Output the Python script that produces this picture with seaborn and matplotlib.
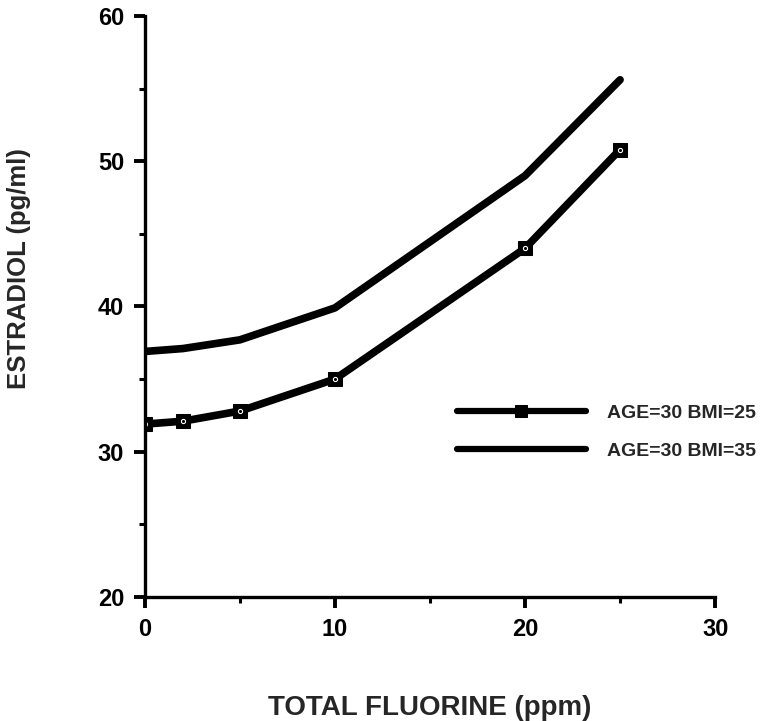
import numpy as np
import pandas as pd
import matplotlib
matplotlib.use("Agg")
import matplotlib.pyplot as plt
import seaborn as sns
from matplotlib.ticker import MultipleLocator

# ── Data ───────────────────────────────────────────────────────────────────
fluorine = [0, 2, 5, 10, 20, 25]
bmi25 = [31.9, 32.1, 32.8, 35.0, 44.0, 50.8]
bmi35 = [36.9, 37.1, 37.7, 39.9, 49.0, 55.6]
labels = ["AGE=30 BMI=25", "AGE=30 BMI=35"]

df = pd.DataFrame({
    "fluorine": fluorine * 2,
    "estradiol": bmi25 + bmi35,
    "group": [labels[0]] * len(fluorine) + [labels[1]] * len(fluorine),
})

sns.set_theme(style="ticks")
plt.rcParams["font.family"] = ["Liberation Sans", "DejaVu Sans"]
plt.rcParams["font.weight"] = "bold"

fig = plt.figure(figsize=(7.79, 7.21), dpi=100)
ax = fig.add_axes([0.186, 0.172, 0.732, 0.806])

sns.lineplot(data=df[df.group == labels[0]], x="fluorine", y="estradiol",
             ax=ax, color="black", lw=5.5, marker="s", markersize=10,
             markerfacecolor="black", markeredgecolor="black", label=labels[0])
sns.lineplot(data=df[df.group == labels[1]], x="fluorine", y="estradiol",
             ax=ax, color="black", lw=5.5, label=labels[1])
# little white dot inside each square marker
ax.plot(fluorine, bmi25, ls="none", marker="o", markersize=3,
        markerfacecolor="none", markeredgecolor="white", markeredgewidth=0.8)

ax.set_xlim(0, 30)
ax.set_ylim(20, 60)
ax.xaxis.set_major_locator(MultipleLocator(10))
ax.xaxis.set_minor_locator(MultipleLocator(5))
ax.yaxis.set_major_locator(MultipleLocator(10))
ax.yaxis.set_minor_locator(MultipleLocator(5))

for s in ["top", "right"]:
    ax.spines[s].set_visible(False)
for s in ["left", "bottom"]:
    ax.spines[s].set_linewidth(2.4)
    ax.spines[s].set_color("black")

ax.tick_params(which="major", direction="out", length=8, width=2.8,
               labelsize=17, pad=7, colors="black")
ax.tick_params(which="minor", direction="out", length=4, width=2.2, colors="black")
for t in ax.get_xticklabels() + ax.get_yticklabels():
    t.set_fontweight("heavy")

ax.set_xlabel("TOTAL FLUORINE (ppm)", fontsize=20, fontweight="heavy")
ax.set_ylabel("ESTRADIOL (pg/ml)", fontsize=18.5, fontweight="heavy")
ax.xaxis.set_label_coords(0.5, -0.168)
ax.yaxis.set_label_coords(-0.2, 0.565)

leg = ax.legend(loc="center left", bbox_to_anchor=(0.534, 0.284), frameon=False,
                fontsize=14, handlelength=6.6, handletextpad=1.1,
                labelspacing=1.05, numpoints=1, borderaxespad=0)
for t in leg.get_texts():
    t.set_fontweight("bold")
for h in leg.get_lines():
    h.set_linewidth(4.5)
    h.set_markersize(8)

fig.savefig("out.png", dpi=100)
